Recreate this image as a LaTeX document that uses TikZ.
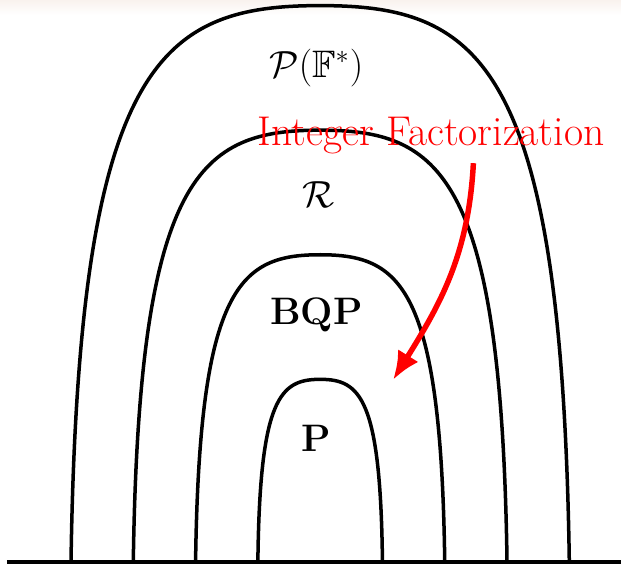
\documentclass[tikz,border=0pt]{standalone}
\usepackage{amssymb}
\usepackage{tikz}
\usetikzlibrary{arrows.meta}
\definecolor{bandtint}{RGB}{249,242,238}

\begin{document}
\begin{tikzpicture}[x=1cm,y=1cm,
    arch/.style={line width=1.6pt},
    cls/.style={font=\fontsize{17.5}{21}\selectfont},
    redlbl/.style={font=\fontsize{19}{23}\selectfont, text=red}]
            \useasboundingbox (-5.14,-0.05) rectangle (4.83,9.02);
            \shade[top color=bandtint, bottom color=white] (-5.14,8.78) rectangle (4.83,9.02);
            % nested classes
            \foreach \k in {1,...,4}{
                \pgfmathsetmacro{\h}{2*\k+0.93}
                \draw[arch] (-\k,0) .. controls ({-0.97*\k},{0.9*\h}) and ({-0.64*\k},\h) .. (0,\h)
                    .. controls ({0.64*\k},\h) and ({0.97*\k},{0.9*\h}) .. (\k,0);
            }
            \draw[arch] (-5.03,0) -- (4.83,0);
            \node[cls] (pf) at (-0.06,7.93) {$\mathcal{P}(\mathbb{F}^*)$};
            \node[cls] (rr) at (-0.03,5.89) {$\mathcal{R}$};
            \node[cls] (bqp) at (-0.06,3.97) {\textbf{BQP}};
            \node[cls] (pp) at (-0.06,1.98) {\textbf{P}};
            \node[redlbl] (factor) at (1.78,6.85) {Integer Factorization};
            \coordinate (src) at (2.46,6.40);
            \coordinate (tgt) at (1.17,2.92);
            \draw[red, line width=2.5pt, -{Latex[length=13pt,width=11pt]}] (src) to[out=-93,in=58] (tgt);
        \end{tikzpicture}
\end{document}
